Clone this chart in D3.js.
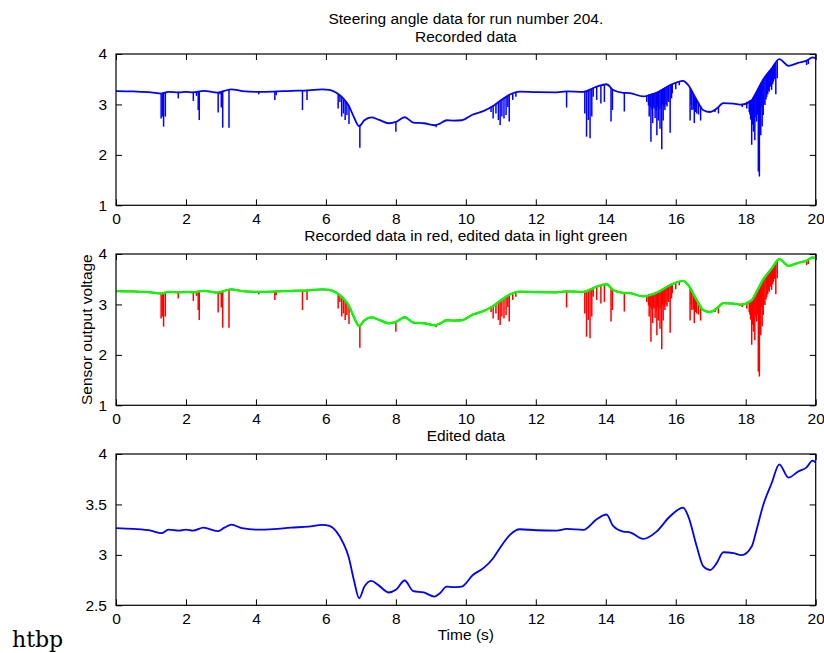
<!DOCTYPE html>
<html><head><meta charset="utf-8">
<script src="https://cdn.jsdelivr.net/npm/d3@7"></script>
<style>
body{margin:0;background:#fff;}
svg{display:block;}
text{font-family:"Liberation Sans",Arial,Helvetica,sans-serif;fill:#000;}
</style>
</head><body>
<svg id="c" width="824" height="653"></svg>
<script>
// ---------------- data ----------------
const xTicks = [0, 2, 4, 6, 8, 10, 12, 14, 16, 18, 20];
const yTicksRecorded = [1, 2, 3, 4];
const yTicksEdited = [2.5, 3, 3.5, 4];
const yTickLabelsEdited = ["2.5", "3", "3.5", "4"];

const editTime = [0, 0.5, 1.0, 1.3, 1.5, 1.8, 2.0, 2.2, 2.5, 2.9, 3.1, 3.3, 3.6, 4.0, 4.5, 5.0, 5.5, 5.9, 6.1, 6.3, 6.5, 6.65, 6.8, 6.95, 7.1, 7.3, 7.5, 7.8, 8.0, 8.25, 8.5, 8.8, 9.1, 9.26, 9.45, 9.64, 9.88, 10.2, 10.5, 10.78, 10.97, 11.26, 11.54, 12.02, 12.59, 12.88, 13.36, 13.74, 14.02, 14.21, 14.5, 14.69, 15.07, 15.45, 15.83, 16.21, 16.36, 16.6, 16.79, 16.98, 17.17, 17.36, 17.65, 17.88, 18.17, 18.31, 18.5, 18.74, 18.96, 19.22, 19.5, 19.74, 19.91, 20];
const editValue = [3.265, 3.257, 3.24, 3.215, 3.25, 3.24, 3.25, 3.24, 3.27, 3.235, 3.27, 3.30, 3.264, 3.25, 3.255, 3.27, 3.28, 3.297, 3.287, 3.23, 3.115, 2.98, 2.75, 2.57, 2.686, 2.743, 2.70, 2.627, 2.653, 2.746, 2.64, 2.627, 2.587, 2.62, 2.686, 2.68, 2.686, 2.80, 2.868, 2.967, 3.066, 3.198, 3.254, 3.244, 3.241, 3.257, 3.248, 3.353, 3.40, 3.287, 3.231, 3.224, 3.158, 3.231, 3.38, 3.469, 3.38, 3.083, 2.885, 2.85, 2.918, 3.026, 3.017, 2.997, 3.083, 3.248, 3.495, 3.71, 3.898, 3.766, 3.826, 3.868, 3.934, 3.914];

// downward glitches of the recorded signal: time and lowest value
const spikeTime = [1.29, 1.33, 1.36, 1.41, 1.78, 2.21, 2.30, 2.35, 2.38, 2.92, 2.97, 3.01, 3.05, 3.23, 4.08, 4.54, 4.58, 5.33, 5.46,
  6.35, 6.40, 6.45, 6.50, 6.55, 6.60, 6.66, 6.97, 8.0, 9.15,
  10.72, 10.78, 10.86, 10.93, 10.98, 11.03, 11.09, 11.15, 11.20, 11.24, 11.34, 11.43,
  12.88, 13.40, 13.45, 13.50, 13.55, 13.60, 13.64, 13.74, 13.86, 13.96, 14.15, 14.19, 14.53,
  15.17, 15.22, 15.24, 15.27, 15.29, 15.32, 15.34, 15.36, 15.38, 15.41, 15.44, 15.46, 15.48, 15.50, 15.52, 15.55, 15.58, 15.60, 15.62, 15.64, 15.67, 15.69, 15.72, 15.75, 15.78, 15.80, 15.84, 15.88, 15.90, 16.0, 16.1,
  16.41, 16.44, 16.46, 16.50, 16.53, 16.57, 16.60, 16.65, 16.71, 17.12, 17.22,
  17.90, 18.03, 18.10, 18.12, 18.14, 18.17, 18.20, 18.22, 18.24, 18.26, 18.29, 18.31, 18.34, 18.36, 18.39, 18.41, 18.43, 18.45, 18.47, 18.50, 18.52, 18.55, 18.58, 18.60, 18.63, 18.65, 18.67, 18.70, 18.72, 18.74, 18.77, 18.79, 18.81, 18.83, 18.86, 18.90, 19.74, 19.79];
const spikeLow = [2.72, 2.76, 2.56, 2.76, 3.12, 3.07, 3.17, 2.89, 2.69, 2.84, 3.20, 2.94, 2.54, 2.54, 3.20, 3.09, 3.18, 2.89, 3.09,
  2.92, 3.05, 2.76, 2.82, 2.69, 2.79, 2.61, 2.14, 2.46, 2.55,
  2.85, 2.72, 2.82, 2.69, 2.59, 2.76, 2.72, 2.79, 2.95, 2.66, 3.09, 3.15,
  2.94, 2.82, 2.36, 2.69, 2.33, 2.76, 3.15, 3.09, 3.02, 3.05, 2.66, 2.89, 2.86,
  3.05, 2.98, 2.76, 2.95, 2.26, 2.90, 2.63, 2.95, 2.92, 2.73, 2.88, 2.39, 2.95, 2.68, 2.90, 2.52, 2.92, 2.11, 3.0, 2.68, 2.95, 2.89, 3.00, 2.96, 3.08, 3.05, 2.44, 3.12, 3.22, 3.30, 3.38,
  2.68, 3.00, 2.89, 2.90, 2.63, 2.85, 2.82, 2.80, 2.68, 2.85, 2.82,
  2.95, 2.92, 2.85, 2.80, 2.70, 2.20, 2.60, 2.46, 2.65, 2.29, 2.75, 2.66, 2.80, 1.67, 1.57, 2.90, 2.39, 2.95, 2.56, 2.79, 3.00, 2.99, 3.10, 3.15, 3.20, 3.28, 3.25, 3.35, 3.38, 3.29, 3.40, 3.45, 3.55, 3.50, 3.20, 3.52, 3.78, 3.80];

const mainTitle = "Steering angle data for run number 204.";
const panelTitles = ["Recorded data", "Recorded data in red, edited data in light green", "Edited data"];
const yLabelText = "Sensor output voltage";
const xLabelText = "Time (s)";
const footText = "htbp";

// ---------------- drawing ----------------
const svg = d3.select("#c");
const left = 116, right = 815.7, ph = 151.3;
const panelTops = [54, 254, 454];
const FS = "15.5px";

const x = d3.scaleLinear().domain([0, 20]).range([left, right]);
const base = d3.scaleLinear().domain(editTime).range(editValue);
const edited = editTime.map((t, i) => [t, editValue[i]]);
const spikes = spikeTime.map((t, i) => [t, spikeLow[i]]);

function panel(idx, domain, ticks, tickFmt) {
  const top = panelTops[idx];
  const y = d3.scaleLinear().domain(domain).range([top + ph, top]);
  const g = svg.append("g");
  const ax = g.append("g").attr("transform", `translate(0,${top + ph})`)
    .call(d3.axisBottom(x).tickValues(xTicks).tickSizeInner(-6).tickSizeOuter(0).tickPadding(8).tickFormat(d3.format("d")));
  const axTop = g.append("g").attr("transform", `translate(0,${top})`)
    .call(d3.axisTop(x).tickValues(xTicks).tickSizeInner(-6).tickSizeOuter(0).tickFormat(""));
  const ay = g.append("g").attr("transform", `translate(${left},0)`)
    .call(d3.axisLeft(y).tickValues(ticks).tickSizeInner(-6).tickSizeOuter(0).tickPadding(9).tickFormat(tickFmt));
  const ayR = g.append("g").attr("transform", `translate(${right},0)`)
    .call(d3.axisRight(y).tickValues(ticks).tickSizeInner(-6).tickSizeOuter(0).tickFormat(""));
  [ax, axTop, ay, ayR].forEach(a => {
    a.select(".domain").remove();
    a.selectAll("line").attr("stroke", "#000").attr("stroke-width", 1);
    a.selectAll("text").style("font-family", '"Liberation Sans",Arial,sans-serif').style("font-size", FS).attr("fill", "#000");
  });
  ax.selectAll("text").attr("dy", "0.71em");
  return {g, y, top};
}

function drawRecorded(p, color) {
  const line = d3.line().x(d => x(d[0])).y(d => p.y(d[1])).curve(d3.curveMonotoneX);
  p.g.append("path").attr("d", line(edited)).attr("fill", "none")
    .attr("stroke", color).attr("stroke-width", 1.8).attr("stroke-linejoin", "round");
  p.g.append("g").selectAll("line").data(spikes).join("line")
    .attr("x1", d => x(d[0])).attr("x2", d => x(d[0]))
    .attr("y1", d => p.y(base(d[0])) - 0.5).attr("y2", d => p.y(d[1]))
    .attr("stroke", color).attr("stroke-width", 1.5);
}

function drawEdited(p, color, w) {
  const line = d3.line().x(d => x(d[0])).y(d => p.y(d[1])).curve(d3.curveMonotoneX);
  p.g.append("path").attr("d", line(edited)).attr("fill", "none")
    .attr("stroke", color).attr("stroke-width", w).attr("stroke-linejoin", "round");
}

function frame(p) {
  p.g.append("rect").attr("x", left).attr("y", p.top).attr("width", right - left).attr("height", ph)
    .attr("fill", "none").attr("stroke", "#000").attr("stroke-width", 1.2);
}

const p1 = panel(0, [1, 4], yTicksRecorded, d3.format("d"));
drawRecorded(p1, "#0000ff");
frame(p1);

const p2 = panel(1, [1, 4], yTicksRecorded, d3.format("d"));
drawRecorded(p2, "#ff0000");
drawEdited(p2, "#00ff00", 2.3);
frame(p2);

const p3 = panel(2, [2.5, 4], yTicksEdited, (d, i) => yTickLabelsEdited[i]);
drawEdited(p3, "#0000ff", 1.8);
frame(p3);

const cx = (left + right) / 2;
const T = svg.append("g").style("font-size", FS);
T.append("text").attr("x", cx).attr("y", 24).attr("text-anchor", "middle").text(mainTitle);
T.append("text").attr("x", cx).attr("y", 42).attr("text-anchor", "middle").text(panelTitles[0]);
T.append("text").attr("x", cx).attr("y", 241).attr("text-anchor", "middle").text(panelTitles[1]);
T.append("text").attr("x", cx).attr("y", 441).attr("text-anchor", "middle").text(panelTitles[2]);
T.append("text").attr("x", cx).attr("y", 640).attr("text-anchor", "middle").text(xLabelText);
T.append("text").attr("transform", `translate(92,${panelTops[1] + ph / 2}) rotate(-90)`)
  .attr("text-anchor", "middle").text(yLabelText);
svg.append("text").attr("x", 12).attr("y", 647).style("font-family", '"DejaVu Serif",serif')
  .style("font-size", "22px").text(footText);
</script>
</body></html>
